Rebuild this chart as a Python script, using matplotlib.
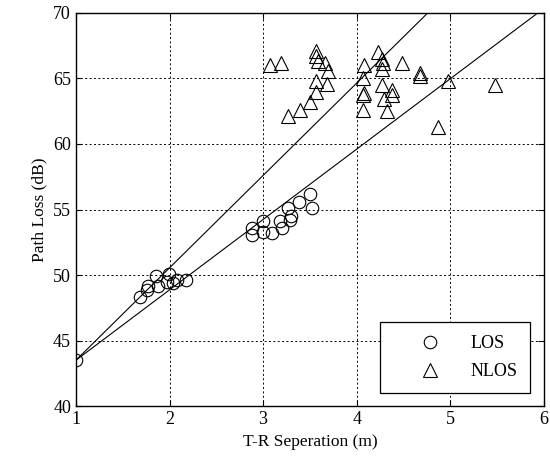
import numpy as np
import matplotlib
matplotlib.use("Agg")
import matplotlib.pyplot as plt

# LOS measurements (T-R separation in m, path loss in dB)
los_d = [1.0, 1.68, 1.76, 1.77, 1.86, 1.88, 1.99, 1.97, 2.04, 2.08, 2.18,
         2.88, 2.88, 3.0, 3.0, 3.09, 3.18, 3.2, 3.29, 3.3, 3.27, 3.38, 3.5, 3.52]
los_pl = [43.5, 48.3, 48.85, 49.2, 49.9, 49.2, 50.1, 49.5, 49.4, 49.6, 49.6,
          53.6, 53.05, 54.1, 53.3, 53.2, 54.1, 53.6, 54.2, 54.5, 55.1, 55.6, 56.2, 55.1]

# NLOS measurements
nlos_d = [3.07, 3.19, 3.57, 3.57, 3.59, 3.66, 3.69, 3.57, 3.68, 3.57, 3.5, 3.39, 3.27,
          4.08, 4.07, 4.23, 4.27, 4.28, 4.27, 4.48, 4.68, 4.68, 4.27, 4.07, 4.08,
          4.38, 4.38, 4.29, 4.07, 4.32, 4.98, 4.87, 5.48]
nlos_pl = [66.0, 66.2, 67.1, 66.7, 66.3, 66.2, 65.6, 64.8, 64.6, 64.0, 63.2, 62.6, 62.1,
           66.0, 65.0, 67.0, 66.5, 66.2, 65.7, 66.2, 65.4, 65.2, 64.5, 63.7, 63.9,
           64.1, 63.7, 63.4, 62.6, 62.5, 64.8, 61.3, 64.5]

# fitted lines: PL = intercept + slope * (d - 1)
fit_intercept = 43.5
fit_slopes = [7.05, 5.37]
fit_d = [1.0, 6.0]

plt.rcParams['font.family'] = ['Liberation Serif', 'DejaVu Serif']

fig = plt.figure(figsize=(5.5, 4.61), dpi=100)
ax = fig.add_axes([0.138, 0.119, 0.851, 0.853])

for s in fit_slopes:
    yy = [fit_intercept + s * (d - 1.0) for d in fit_d]
    ax.plot(fit_d, yy, color='black', lw=0.8, zorder=2)

ax.plot(los_d, los_pl, linestyle='none', marker='o', markersize=9,
        markerfacecolor='none', markeredgecolor='black', markeredgewidth=0.8,
        label='LOS', zorder=3)
ax.plot(nlos_d, nlos_pl, linestyle='none', marker='^', markersize=10.5,
        markerfacecolor='none', markeredgecolor='black', markeredgewidth=0.8,
        label='NLOS', zorder=3)

ax.set_xlim(1, 6)
ax.set_ylim(40, 70)
ax.set_xticks(range(1, 7))
ax.set_yticks(range(40, 71, 5))
ax.grid(True, color='black', linestyle=(0, (2, 2.5)), linewidth=0.7)
ax.tick_params(direction='in', top=True, right=True, labelsize=13, length=4)
for sp in ax.spines.values():
    sp.set_linewidth(1.0)

ax.set_xlabel('T-R Seperation (m)', fontsize=12.5)
ax.set_ylabel('Path Loss (dB)', fontsize=12.5)

leg = ax.legend(loc='lower right', fontsize=13, fancybox=False, edgecolor='black',
                framealpha=1, handletextpad=0.2, borderpad=0.7, labelspacing=0.6,
                handlelength=4.1, borderaxespad=0.75)
leg.get_frame().set_linewidth(0.9)

fig.savefig('out.png', dpi=100)
